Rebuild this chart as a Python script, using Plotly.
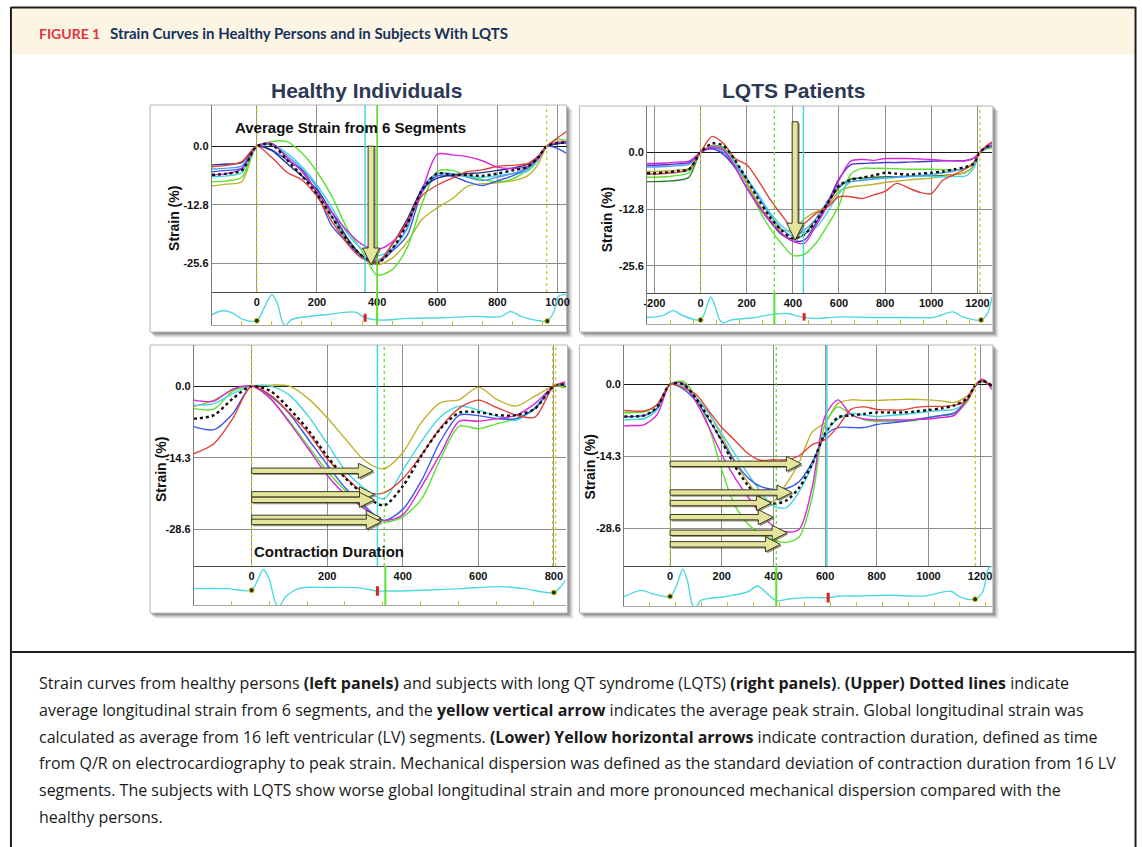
import plotly.graph_objects as go

W, H = 1142, 847

# ====================== DATA ======================
# ---- Upper-left: healthy individuals (strain %, time ms) ----
UL_T = [-150, -100, -50, 0, 50, 100, 150, 200, 250, 300, 350, 400, 450, 500, 550, 600,
        650, 700, 750, 800, 850, 900, 935, 965, 1000, 1030]
UL_RED = [-4.5, -4.2, -3.4, 0, -2.5, -5.7, -7.4, -11.0, -16.5, -21.3, -24.5, -25.6, -21.5, -16.5,
          -10.8, -8.5, -7.0, -5.6, -5.2, -4.4, -4.2, -3.8, -2.2, 0, 1.8, 3.2]
UL_GREEN = [-7.8, -7.6, -6.8, 0, 1.0, 1.0, -1.5, -5.6, -11.0, -18.0, -23.0, -28.2, -27.0, -22.2,
            -12.5, -5.5, -5.3, -6.5, -7.3, -7.8, -7.2, -5.2, -3.0, 0, 1.5, 1.2]
UL_MAGENTA = [-6.3, -6.0, -5.0, 0, 0.6, -2.5, -5.5, -10.0, -14.5, -18.5, -21.5, -22.6, -21.0, -17.0,
              -9.5, -1.8, -1.9, -2.3, -3.2, -4.6, -4.9, -4.5, -2.8, 0, 0.8, 1.0]
UL_BLUE = [-5.6, -5.3, -4.8, 0, -0.8, -3.0, -5.2, -10.3, -17.5, -21.0, -24.0, -25.4, -23.0, -19.5,
           -10.0, -6.5, -6.6, -7.8, -8.6, -7.6, -6.5, -4.8, -2.6, 0, -0.5, -1.6]
UL_NAVY = [-4.1, -3.9, -3.6, 0, -1.0, -3.8, -6.5, -9.5, -14.5, -20.0, -24.0, -25.6, -21.5, -16.0,
           -9.5, -7.0, -6.3, -6.0, -5.8, -5.3, -4.8, -4.0, -2.3, 0, 0.5, 0.8]
UL_LIGHTBLUE = [-5.0, -4.8, -4.3, 0, 0.3, -2.0, -5.0, -9.0, -15.5, -21.0, -24.5, -25.0, -22.5, -18.0,
                -9.0, -6.0, -6.0, -6.8, -7.5, -6.8, -6.0, -4.5, -2.5, 0, 0.8, 0.5]
UL_CYAN = [-6.7, -6.5, -5.8, 0, 0.5, -1.5, -4.5, -8.5, -13.5, -19.0, -22.5, -24.0, -22.5, -18.0,
           -9.5, -6.0, -6.2, -6.5, -6.8, -6.5, -6.0, -5.5, -3.2, 0, 0.6, 0.6]
UL_OLIVE = [-8.7, -8.3, -7.8, 0, 0.5, -2.5, -5.5, -10.5, -15.5, -20.5, -24.0, -25.9, -24.5, -21.0,
            -16.0, -13.5, -11.5, -8.8, -8.2, -8.0, -7.6, -6.5, -4.0, 0, 1.0, 1.2]
UL_AVG = [-6.3, -6.0, -5.3, 0, 0.3, -3.0, -6.5, -10.5, -15.5, -20.5, -24.0, -25.6, -22.5, -17.0,
          -9.5, -6.0, -6.3, -6.3, -6.5, -6.0, -5.3, -4.5, -2.5, 0, 0.7, 0.8]
UL_XTICKS = [0, 200, 400, 600, 800, 1000]
UL_YTICKS = [0.0, -12.8, -25.6]
UL_ECG_T = [-150, -113, -80, -47, 0, 24, 50, 68, 85, 96, 112, 140, 228, 327, 360, 404, 503, 613,
            724, 812, 845, 878, 944, 966, 988, 1004, 1030]
UL_ECG_V = [.31, .43, .36, .17, .13, .51, .92, .66, .10, -.02, .15, .22, .31, .39, .22, .15, .20, .22,
            .26, .26, .41, .26, .12, .12, .40, .87, .92]
UL_QDOT_T = [0, 966]
UL_QDOT_V = [0.13, 0.12]
UL_AVC = 360          # red marker / cyan line (ms)
UL_YELLOW = [0, 964]
UL_CYANLINE = [360]
UL_GREENLINE = [400]
UL_ARROW_X = 380
UL_ARROW_Y = [0.0, -26.0]

# ---- Upper-right: LQTS patients ----
UR_T = [-232, -200, -150, -100, -50, 0, 50, 100, 150, 200, 250, 300, 350, 400, 450, 500, 550, 600,
        650, 700, 750, 800, 850, 900, 950, 1000, 1050, 1100, 1150, 1185, 1211, 1240, 1263]
UR_RED = [-4.9, -4.9, -4.7, -4.5, -3.8, 0, 3.6, 2.0, -1.4, -2.8, -6.3, -10.5, -14.0, -17.0, -16.0,
          -13.8, -12.3, -10.0, -10.0, -10.4, -9.6, -8.8, -7.0, -8.0, -9.0, -9.3, -6.3, -5.0, -3.7,
          -2.2, 0, 1.5, 2.3]
UR_MAGENTA = [-2.5, -2.5, -2.4, -2.2, -2.0, 0, 1.2, 0.5, -3.3, -8.0, -12.0, -15.3, -18.2, -20.0,
              -20.5, -16.5, -12.0, -6.3, -2.0, -1.6, -1.8, -1.4, -1.4, -1.4, -1.5, -1.6, -1.8, -1.9,
              -1.9, -1.3, 0, 1.5, 2.0]
UR_PURPLE = [-2.9, -2.9, -2.8, -2.6, -2.3, 0, 0.8, -0.5, -3.5, -8.0, -12.0, -15.5, -18.3, -20.0,
             -19.8, -16.0, -11.5, -6.0, -2.8, -2.5, -2.4, -2.3, -2.3, -2.2, -2.1, -2.0, -1.9, -1.9,
             -1.8, -1.3, 0, 1.2, 1.5]
UR_LIGHTBLUE = [-3.3, -3.3, -3.2, -3.0, -2.7, 0, 1.0, 0.0, -3.0, -6.0, -10.0, -14.0, -17.2, -18.8,
                -17.5, -15.0, -11.0, -7.5, -6.6, -6.3, -6.0, -5.8, -5.6, -5.4, -5.2, -5.0, -4.6,
                -4.2, -3.5, -2.5, 0, 1.0, 1.4]
UR_GREEN = [-5.6, -5.6, -5.5, -5.2, -4.6, 0, 1.3, 0.8, -2.0, -7.0, -12.5, -17.0, -20.5, -23.2, -23.0,
            -20.5, -16.5, -12.0, -5.0, -3.6, -3.6, -3.6, -3.7, -3.8, -3.8, -3.8, -3.9, -4.0, -3.6,
            -2.4, 0, 0.8, 1.0]
UR_DARKGREEN = [-6.6, -6.6, -6.5, -6.3, -5.6, 0, 1.5, 1.0, -2.5, -7.0, -11.5, -15.5, -18.5, -19.5,
                -18.5, -15.0, -11.5, -8.0, -6.0, -5.8, -5.6, -5.5, -5.5, -5.4, -5.4, -5.3, -5.2,
                -5.0, -4.5, -3.0, 0, 1.0, 1.2]
UR_CYAN = [-4.9, -4.9, -4.8, -4.5, -4.0, 0, 1.3, 0.5, -2.3, -5.8, -9.5, -13.5, -16.5, -18.3, -18.0,
           -17.0, -13.5, -9.3, -6.7, -6.3, -6.0, -5.8, -5.6, -5.5, -5.4, -5.4, -5.5, -5.4, -5.3,
           -3.5, 0, 1.0, 1.3]
UR_OLIVE = [-4.3, -4.3, -4.2, -4.0, -3.6, 0, 1.5, 0.5, -2.5, -6.8, -11.5, -15.0, -17.5, -17.5, -15.0,
            -13.4, -12.0, -8.8, -7.8, -7.5, -7.2, -6.8, -6.5, -6.2, -6.0, -5.8, -5.4, -5.0, -4.5,
            -3.0, 0, 1.0, 1.2]
UR_AVG = [-4.7, -4.7, -4.5, -4.2, -3.8, 0, 2.0, 1.5, -1.8, -6.0, -10.5, -14.5, -17.5, -19.4, -18.5,
          -15.5, -11.5, -7.5, -6.2, -5.7, -5.2, -4.6, -4.8, -5.0, -4.8, -4.6, -4.3, -3.8, -3.3,
          -2.5, 0, 1.2, 1.5]
UR_XTICKS = [-200, 0, 200, 400, 600, 800, 1000, 1200]
UR_YTICKS = [0.0, -12.8, -25.6]
UR_ECG_T = [-232, -168, -118, -82, 0, 26, 44, 62, 83, 97, 133, 234, 320, 377, 434, 492, 606, 750,
            893, 1008, 1094, 1137, 1216, 1244, 1263]
UR_ECG_V = [.21, .26, .43, .29, .13, .55, .87, .60, .13, .04, .13, .21, .32, .34, .23, .18, .23, .21,
            .21, .21, .39, .23, .13, .34, .87]
UR_QDOT_T = [0, 1216]
UR_QDOT_V = [0.13, 0.13]
UR_AVC = 449
UR_YELLOW = [0, 1211]
UR_CYANLINE = [446]
UR_GREENDOT = [320]
UR_GREENLINE = [320]
UR_ARROW_X = 410
UR_ARROW_Y = [6.9, -19.8]

# ---- Lower-left: healthy, contraction duration ----
LL_T = [-153, -100, -50, 0, 50, 100, 150, 200, 250, 300, 350, 400, 450, 500, 550, 600, 650, 700,
        750, 800, 831]
LL_RED = [-13.5, -11.5, -6.5, 0, -1.8, -5.3, -9.3, -14.5, -18.3, -21.3, -21.3, -18.5, -13.7, -8.3,
          -4.4, -2.8, -4.3, -5.8, -6.2, 0, 0.5]
LL_BLUE = [-8.1, -8.7, -5.5, 0, -2.0, -5.5, -10.6, -15.7, -20.5, -24.0, -26.8, -24.6, -18.8, -11.0,
           -5.8, -5.9, -6.5, -6.5, -4.5, 0, 0.2]
LL_MAGENTA = [-2.8, -3.0, -0.6, 0, -2.5, -7.3, -12.5, -17.8, -21.8, -24.5, -26.8, -25.7, -20.0,
              -13.5, -7.0, -7.0, -6.5, -5.8, -3.5, 0, 0.9]
LL_GREEN = [-4.5, -4.6, -1.0, 0, -2.5, -7.0, -12.0, -17.0, -21.0, -24.5, -27.1, -26.1, -22.5, -14.5,
            -8.0, -8.5, -7.5, -6.5, -4.5, 0, -0.3]
LL_CYAN = [-3.8, -3.5, -1.5, 0, 0.0, -1.8, -6.0, -11.5, -17.0, -20.5, -22.5, -16.8, -11.0, -6.1,
           -4.0, -4.8, -6.0, -6.8, -4.3, 0, 0.2]
LL_OLIVE = [-4.1, -2.8, -0.8, 0, 0.2, 0.0, -2.5, -6.3, -10.7, -14.9, -16.5, -13.3, -7.2, -3.3, -2.7,
            -0.2, -2.7, -4.0, -2.0, 0, -0.3]
LL_AVG = [-6.5, -5.8, -2.5, 0, -1.0, -4.5, -8.8, -14.0, -18.5, -21.8, -23.8, -20.0, -13.8, -8.5,
          -5.3, -5.2, -5.8, -5.8, -4.5, 0, 0.3]
LL_XTICKS = [0, 200, 400, 600, 800]
LL_YTICKS = [0.0, -14.3, -28.6]
LL_ECG_T = [-153, -67, 0, 16, 31, 46, 64, 73, 90, 125, 204, 283, 333, 380, 458, 555, 660, 721, 800,
            818, 831]
LL_ECG_V = [.42, .42, .38, .64, .91, .68, .04, -.04, .21, .42, .45, .44, .36, .36, .38, .42, .47,
            .42, .32, .47, .64]
LL_QDOT_T = [0, 800]
LL_QDOT_V = [0.38, 0.32]
LL_AVC = 333
LL_YELLOW = [0, 797, 805]
LL_CYANLINE = [333]
LL_GREENDOT = [351]
LL_GREENLINE = [354]
LL_ARROWS_Y = [-16.9, -21.6, -22.7, -26.3, -27.1]
LL_ARROWS_END = [322, 325, 325, 343, 343]

# ---- Lower-right: LQTS, contraction duration ----
LR_T = [-178, -150, -100, -50, 0, 50, 100, 150, 200, 250, 300, 350, 400, 450, 500, 550, 600, 650,
        700, 750, 800, 850, 900, 950, 1000, 1050, 1100, 1150, 1185, 1210, 1246]
LR_RED = [-5.2, -5.3, -5.3, -4.0, 0, -0.7, -2.0, -5.3, -8.6, -11.1, -13.7, -15.1, -15.0, -15.0,
          -14.2, -12.0, -11.0, -8.4, -5.0, -4.5, -5.0, -5.1, -5.1, -4.6, -4.4, -4.4, -4.2, -3.2,
          0, 0.7, -0.5]
LR_MAGENTA = [-8.3, -8.2, -8.0, -6.0, 0, 0.2, -3.5, -8.5, -14.0, -18.5, -22.3, -25.7, -28.2, -29.3,
              -28.8, -20.5, -6.3, -3.1, -6.0, -6.9, -7.1, -7.1, -7.1, -7.0, -6.9, -6.6, -6.2, -3.0,
              0, 1.0, -1.0]
LR_GREEN = [-5.7, -5.6, -5.5, -4.0, 0, 0.6, -2.5, -8.5, -17.0, -24.0, -27.7, -29.7, -30.9, -31.4,
            -30.3, -22.5, -8.0, -4.5, -6.0, -7.0, -7.4, -7.4, -7.4, -7.2, -6.6, -6.2, -5.9, -3.5,
            0, 0.5, -0.5]
LR_BLUE = [-6.5, -6.4, -6.2, -4.7, 0, -0.9, -3.3, -7.0, -11.2, -15.3, -18.5, -20.3, -20.9, -20.7,
           -19.3, -15.5, -10.2, -8.6, -8.6, -8.6, -8.0, -7.7, -7.4, -7.0, -6.6, -6.2, -5.7, -3.0,
           0, 0.6, -0.3]
LR_OLIVE = [-5.6, -5.6, -5.4, -4.0, 0, -0.3, -2.6, -5.9, -10.3, -15.3, -19.4, -22.3, -23.3, -19.8,
            -15.5, -9.5, -7.6, -3.8, -3.1, -3.2, -3.2, -3.1, -3.0, -3.0, -3.1, -3.3, -3.6, -2.3,
            0, 0.6, -0.3]
LR_CYAN = [-7.1, -7.0, -6.8, -5.0, 0, -0.3, -2.6, -5.8, -9.8, -13.8, -17.7, -21.3, -24.2, -24.5,
           -21.3, -16.2, -9.8, -6.9, -5.8, -6.1, -6.4, -6.2, -6.0, -5.7, -5.4, -5.2, -5.0, -3.3,
           0, 0.7, -0.3]
LR_AVG = [-6.4, -6.4, -6.2, -4.5, 0, 0.0, -2.8, -6.8, -11.3, -16.2, -20.0, -22.7, -23.7, -23.1,
          -20.5, -15.8, -9.8, -6.6, -6.2, -5.9, -5.6, -5.6, -5.6, -5.4, -5.1, -4.8, -4.2, -2.8,
          0, 0.7, -0.3]
LR_XTICKS = [0, 200, 400, 600, 800, 1000, 1200]
LR_YTICKS = [0.0, -14.3, -28.6]
LR_ECG_T = [-178, -112, -60, 0, 23, 49, 68, 87, 100, 119, 209, 299, 338, 376, 411, 466, 530, 612,
            658, 722, 851, 985, 1088, 1121, 1181, 1210, 1233, 1246]
LR_ECG_V = [.23, .39, .29, .24, .48, .92, .60, .02, -.03, .14, .23, .35, .50, .31, .14, .18, .21,
            .21, .25, .25, .27, .25, .37, .23, .17, .35, .94, 1.0]
LR_QDOT_T = [0, 1181]
LR_QDOT_V = [0.24, 0.17]
LR_AVC = 612
LR_YELLOW = [0, 1182]
LR_CYANLINE = [607]
LR_GREENDOT = [411]
LR_GREENLINE = [411]
LR_ARROWS_Y = [-15.8, -21.5, -23.6, -26.4, -29.5, -31.8]
LR_ARROWS_END = [508, 472, 392, 399, 453, 427]

CAPTION = [
    "Strain curves from healthy persons <b>(left panels)</b> and subjects with long QT syndrome (LQTS) <b>(right panels)</b>. <b>(Upper) Dotted lines</b> indicate",
    "average longitudinal strain from 6 segments, and the <b>yellow vertical arrow</b> indicates the average peak strain. Global longitudinal strain was",
    "calculated as average from 16 left ventricular (LV) segments. <b>(Lower) Yellow horizontal arrows</b> indicate contraction duration, defined as time",
    "from Q/R on electrocardiography to peak strain. Mechanical dispersion was defined as the standard deviation of contraction duration from 16 LV",
    "segments. The subjects with LQTS show worse global longitudinal strain and more pronounced mechanical dispersion compared with the",
    "healthy persons.",
]

# ====================== STYLE ======================
C = dict(red='#E2423A', magenta='#DA25DA', blue='#3A5BEA', navy='#26329E', lightblue='#4E9DF5',
         cyan='#40D6E2', green='#5BE02E', olive='#BDB22A', darkgreen='#2E7D2E', purple='#4A34CC')
ECG_COL = '#4FD8E0'
YEL = '#CBC41E'
ARROW_FILL = '#E4E49A'
ARROW_EDGE = '#3A3A28'
TICKFONT = dict(family='Liberation Sans, Arial, sans-serif', size=11, color='#111')


def xp(px):
    return px / W


def yp(py):
    return 1 - py / H


panels = [
    dict(box=(147, 105, 566, 332), plot=(209, 105, 566, 292), ecgb=325, xr=(-150, 1030), yr=(-31.9, 9.0),
         xt=UL_XTICKS, yt=UL_YTICKS, t=UL_T,
         curves=[(UL_OLIVE, 'olive'), (UL_GREEN, 'green'), (UL_CYAN, 'cyan'), (UL_LIGHTBLUE, 'lightblue'),
                 (UL_BLUE, 'blue'), (UL_NAVY, 'navy'), (UL_MAGENTA, 'magenta'), (UL_RED, 'red')],
         avg=UL_AVG, ecg=(UL_ECG_T, UL_ECG_V), qdot=(UL_QDOT_T, UL_QDOT_V), avc=UL_AVC,
         yellow=UL_YELLOW, cyanl=UL_CYANLINE, greend=[], greenl=UL_GREENLINE, green_full=True,
         varrow=(UL_ARROW_X, UL_ARROW_Y), harrows=None),
    dict(box=(579, 106, 995, 332), plot=(647, 106, 994, 293), ecgb=324, xr=(-232, 1263), yr=(-31.7, 10.45),
         xt=UR_XTICKS, yt=UR_YTICKS, t=UR_T,
         curves=[(UR_DARKGREEN, 'darkgreen'), (UR_GREEN, 'green'), (UR_OLIVE, 'olive'), (UR_CYAN, 'cyan'),
                 (UR_LIGHTBLUE, 'lightblue'), (UR_PURPLE, 'purple'), (UR_MAGENTA, 'magenta'), (UR_RED, 'red')],
         avg=UR_AVG, ecg=(UR_ECG_T, UR_ECG_V), qdot=(UR_QDOT_T, UR_QDOT_V), avc=UR_AVC,
         yellow=UR_YELLOW, cyanl=UR_CYANLINE, greend=UR_GREENDOT, greenl=UR_GREENLINE, green_full=False,
         varrow=(UR_ARROW_X, UR_ARROW_Y), harrows=None),
    dict(box=(147, 345, 567, 613), plot=(191, 345, 565, 566), ecgb=605, xr=(-153, 831), yr=(-35.9, 8.2),
         xt=LL_XTICKS, yt=LL_YTICKS, t=LL_T,
         curves=[(LL_OLIVE, 'olive'), (LL_GREEN, 'green'), (LL_CYAN, 'cyan'), (LL_BLUE, 'blue'),
                 (LL_MAGENTA, 'magenta'), (LL_RED, 'red')],
         avg=LL_AVG, ecg=(LL_ECG_T, LL_ECG_V), qdot=(LL_QDOT_T, LL_QDOT_V), avc=LL_AVC,
         yellow=LL_YELLOW, cyanl=LL_CYANLINE, greend=LL_GREENDOT, greenl=LL_GREENLINE, green_full=False,
         varrow=None, harrows=(LL_ARROWS_Y, LL_ARROWS_END)),
    dict(box=(579, 345, 995, 613), plot=(624, 345, 994, 566), ecgb=606, xr=(-178, 1246), yr=(-36.1, 7.8),
         xt=LR_XTICKS, yt=LR_YTICKS, t=LR_T,
         curves=[(LR_OLIVE, 'olive'), (LR_GREEN, 'green'), (LR_CYAN, 'cyan'), (LR_BLUE, 'blue'),
                 (LR_MAGENTA, 'magenta'), (LR_RED, 'red')],
         avg=LR_AVG, ecg=(LR_ECG_T, LR_ECG_V), qdot=(LR_QDOT_T, LR_QDOT_V), avc=LR_AVC,
         yellow=LR_YELLOW, cyanl=LR_CYANLINE, greend=LR_GREENDOT, greenl=LR_GREENLINE, green_full=False,
         varrow=None, harrows=(LR_ARROWS_Y, LR_ARROWS_END)),
]

fig = go.Figure()
shapes = []
annotations = []
layout_axes = {}


def nm(prefix, n):
    return prefix + ('' if n == 1 else str(n))


# ---------- frame of the whole figure ----------
shapes.append(dict(type='rect', xref='paper', yref='paper', x0=xp(7), x1=xp(1138), y0=yp(54), y1=yp(8),
                   fillcolor='#FDF5E4', line=dict(width=0), layer='below'))
for (x0, y0, x1, y1) in [(7, 7.5, 1138.5, 7.5), (7, 7, 7, 847), (1138.5, 7, 1138.5, 847), (7, 652, 1138.5, 652)]:
    shapes.append(dict(type='line', xref='paper', yref='paper', x0=xp(x0), x1=xp(x1), y0=yp(y0), y1=yp(y1),
                       line=dict(color='#1E1E1E', width=2), layer='below'))

for i, p in enumerate(panels):
    sa, ea = 2 * i + 1, 2 * i + 2
    xs, ys, xe, ye = nm('x', sa), nm('y', sa), nm('x', ea), nm('y', ea)
    L, T, R, B = p['plot']
    bx0, by0, bx1, by1 = p['box']

    # panel shadow + frame
    for off, alpha in [(6, 0.05), (5, 0.07), (4, 0.09), (3, 0.12), (2, 0.16)]:
        shapes.append(dict(type='rect', xref='paper', yref='paper', x0=xp(bx0 + off - 1), x1=xp(bx1 + off),
                           y0=yp(by1 + off), y1=yp(by0 + off - 1), fillcolor=f'rgba(0,0,0,{alpha})',
                           line=dict(width=0), layer='below'))
    shapes.append(dict(type='rect', xref='paper', yref='paper', x0=xp(bx0), x1=xp(bx1), y0=yp(by1), y1=yp(by0),
                       fillcolor='white', line=dict(color='#B5B5B5', width=1), layer='below'))

    # axes
    layout_axes[nm('xaxis', sa)] = dict(
        domain=[xp(L), xp(R)], range=list(p['xr']), anchor=ys, tickvals=p['xt'],
        ticktext=[f'<b>{v}</b>' for v in p['xt']], tickfont=TICKFONT, ticks='', showgrid=True,
        gridcolor='#8E8E8E', gridwidth=1, zeroline=False, showline=True, linecolor='#4A4A4A',
        linewidth=1.3, fixedrange=True)
    layout_axes[nm('yaxis', sa)] = dict(
        domain=[yp(B), yp(T)], range=list(p['yr']), anchor=xs, tickvals=p['yt'],
        ticktext=[f'<b>{v:.1f}</b>' for v in p['yt']], tickfont=TICKFONT, ticks='', showgrid=True,
        gridcolor='#8E8E8E', gridwidth=1, zeroline=True, zerolinecolor='#1A1A1A', zerolinewidth=1.3,
        showline=True, linecolor='#7A7A7A', linewidth=1, fixedrange=True)
    layout_axes[nm('xaxis', ea)] = dict(
        domain=[xp(L), xp(R)], range=list(p['xr']), anchor=ye, showgrid=False, zeroline=False,
        showticklabels=False, ticks='inside', tick0=p['xr'][0], dtick=100, ticklen=4, tickwidth=1.3,
        tickcolor=YEL, showline=True, linecolor='#A6A6A6', linewidth=1.2, fixedrange=True)
    layout_axes[nm('yaxis', ea)] = dict(
        domain=[yp(p['ecgb']), yp(B)], range=[0, 1], anchor=xe, showgrid=False, zeroline=False,
        showticklabels=False, ticks='', showline=True, linecolor='#7A7A7A', linewidth=1, fixedrange=True)

    # strain curves
    for vals, cname in p['curves']:
        fig.add_trace(go.Scatter(x=p['t'], y=vals, mode='lines', xaxis=xs, yaxis=ys, showlegend=False,
                                 line=dict(color=C[cname], width=1.4, shape='spline', smoothing=0.8),
                                 hoverinfo='skip'))
    fig.add_trace(go.Scatter(x=p['t'], y=p['avg'], mode='lines', xaxis=xs, yaxis=ys, showlegend=False,
                             line=dict(color='#111', width=2.4, dash='dot', shape='spline', smoothing=0.8),
                             hoverinfo='skip'))

    # ECG strip
    fig.add_trace(go.Scatter(x=p['ecg'][0], y=p['ecg'][1], mode='lines', xaxis=xe, yaxis=ye, showlegend=False,
                             line=dict(color=ECG_COL, width=1.4, shape='spline', smoothing=0.9),
                             hoverinfo='skip'))
    fig.add_trace(go.Scatter(x=p['qdot'][0], y=p['qdot'][1], mode='markers', xaxis=xe, yaxis=ye,
                             showlegend=False, hoverinfo='skip',
                             marker=dict(color='#2A2A10', size=5, line=dict(color='#D8D020', width=1))))

    # event lines
    for xv in p['yellow']:
        shapes.append(dict(type='line', xref=xs, yref=f'{ys} domain', x0=xv, x1=xv, y0=0, y1=1,
                           line=dict(color=YEL, width=1.2, dash='dot')))
    for xv in p['cyanl']:
        shapes.append(dict(type='line', xref=xs, yref=f'{ys} domain', x0=xv, x1=xv, y0=0, y1=1,
                           line=dict(color=C['cyan'], width=1.5)))
    for xv in p['greend']:
        shapes.append(dict(type='line', xref=xs, yref=f'{ys} domain', x0=xv, x1=xv, y0=0, y1=1,
                           line=dict(color=C['green'], width=1.3, dash='dot')))
    for xv in p['greenl']:
        shapes.append(dict(type='line', xref=xe, yref=f'{ye} domain', x0=xv, x1=xv, y0=0, y1=1,
                           line=dict(color=C['green'], width=2)))
        if p['green_full']:
            shapes.append(dict(type='line', xref=xs, yref=f'{ys} domain', x0=xv, x1=xv, y0=0, y1=1,
                               line=dict(color=C['green'], width=1.6)))
    # red AVC mark on the ECG
    ia = min(range(len(p['ecg'][0])), key=lambda k: abs(p['ecg'][0][k] - p['avc']))
    vmark = p['ecg'][1][ia]
    shapes.append(dict(type='line', xref=xe, yref=ye, x0=p['avc'], x1=p['avc'], y0=vmark - 0.12,
                       y1=vmark + 0.12, line=dict(color='#E01E1E', width=3)))

    # arrows (polygons computed from data positions through the axis scale)
    sx = (R - L) / (p['xr'][1] - p['xr'][0])  # px per ms
    sy = (B - T) / (p['yr'][1] - p['yr'][0])  # px per strain unit

    def poly(pts):
        return 'M ' + ' L '.join(f'{a:.4f},{b:.4f}' for a, b in pts) + ' Z'

    arrow_paths = []
    if p['varrow'] is not None:
        ax_, (ya, yb) = p['varrow']
        hw, HW, HL = 3.0 / sx, 8.5 / sx, 17 / sy
        yh = yb + HL
        arrow_paths.append([(ax_ - hw, ya), (ax_ + hw, ya), (ax_ + hw, yh), (ax_ + HW, yh), (ax_, yb),
                            (ax_ - HW, yh), (ax_ - hw, yh)])
    if p['harrows'] is not None:
        for yv, xend in zip(*p['harrows']):
            t_, hh, hl = 2.7 / sy, 7.5 / sy, 15 / sx
            xb = xend - hl
            arrow_paths.append([(0, yv + t_), (xb, yv + t_), (xb, yv + hh), (xend, yv), (xb, yv - hh),
                                (xb, yv - t_), (0, yv - t_)])
    for pts in arrow_paths:
        dx, dy = 1.6 / sx, -1.6 / sy
        shapes.append(dict(type='path', xref=xs, yref=ys, path=poly([(a + dx, b + dy) for a, b in pts]),
                           fillcolor='rgba(70,70,30,0.55)', line=dict(width=0), layer='above'))
        shapes.append(dict(type='path', xref=xs, yref=ys, path=poly(pts), fillcolor=ARROW_FILL,
                           line=dict(color=ARROW_EDGE, width=1), layer='above'))

# ---------- texts ----------
annotations.append(dict(xref='paper', yref='paper', x=xp(33), y=yp(33), xanchor='left', yanchor='middle',
                        text='<b>FIGURE 1</b>', showarrow=False,
                        font=dict(family='Lato, Liberation Sans, sans-serif', size=14, color='#E2343E')))
annotations.append(dict(xref='paper', yref='paper', x=xp(105), y=yp(33), xanchor='left', yanchor='middle',
                        text='<b>Strain Curves in Healthy Persons and in Subjects With LQTS</b>', showarrow=False,
                        font=dict(family='Lato, Liberation Sans, sans-serif', size=15, color='#15325E')))
for txt, cx in [('Healthy Individuals', 365), ('LQTS Patients', 795)]:
    annotations.append(dict(xref='paper', yref='paper', x=xp(cx), y=yp(91), xanchor='center', yanchor='middle',
                            text=f'<b>{txt}</b>', showarrow=False,
                            font=dict(family='Liberation Sans, Arial, sans-serif', size=21, color='#2D3855')))
annotations.append(dict(xref='paper', yref='paper', x=xp(348.5), y=yp(127), xanchor='center', yanchor='middle',
                        text='<b>Average Strain from 6 Segments</b>', showarrow=False,
                        font=dict(family='Liberation Sans, Arial, sans-serif', size=15, color='#111')))
annotations.append(dict(xref='paper', yref='paper', x=xp(327.5), y=yp(551), xanchor='center', yanchor='middle',
                        text='<b>Contraction Duration</b>', showarrow=False,
                        font=dict(family='Liberation Sans, Arial, sans-serif', size=15, color='#111')))
for cx, cy in [(171, 218), (607, 220), (158, 470), (590, 467)]:
    annotations.append(dict(xref='paper', yref='paper', x=xp(cx), y=yp(cy), xanchor='center', yanchor='middle',
                            text='<b>Strain (%)</b>', textangle=-90, showarrow=False,
                            font=dict(family='Liberation Sans, Arial, sans-serif', size=14, color='#111')))
for k, line in enumerate(CAPTION):
    annotations.append(dict(xref='paper', yref='paper', x=xp(33), y=yp(683 + 26.8 * k), xanchor='left',
                            yanchor='middle', text=line, showarrow=False,
                            font=dict(family='Open Sans, Noto Sans, sans-serif', size=16, color='#1A1A1A')))

fig.update_layout(width=W, height=H, margin=dict(l=0, r=0, t=0, b=0), autosize=False,
                  paper_bgcolor='white', plot_bgcolor='rgba(0,0,0,0)', showlegend=False,
                  shapes=shapes, annotations=annotations, hovermode=False, **layout_axes)

fig.write_html('out.html', config=dict(displayModeBar=False),
               post_script="document.body.style.margin='0px';")
